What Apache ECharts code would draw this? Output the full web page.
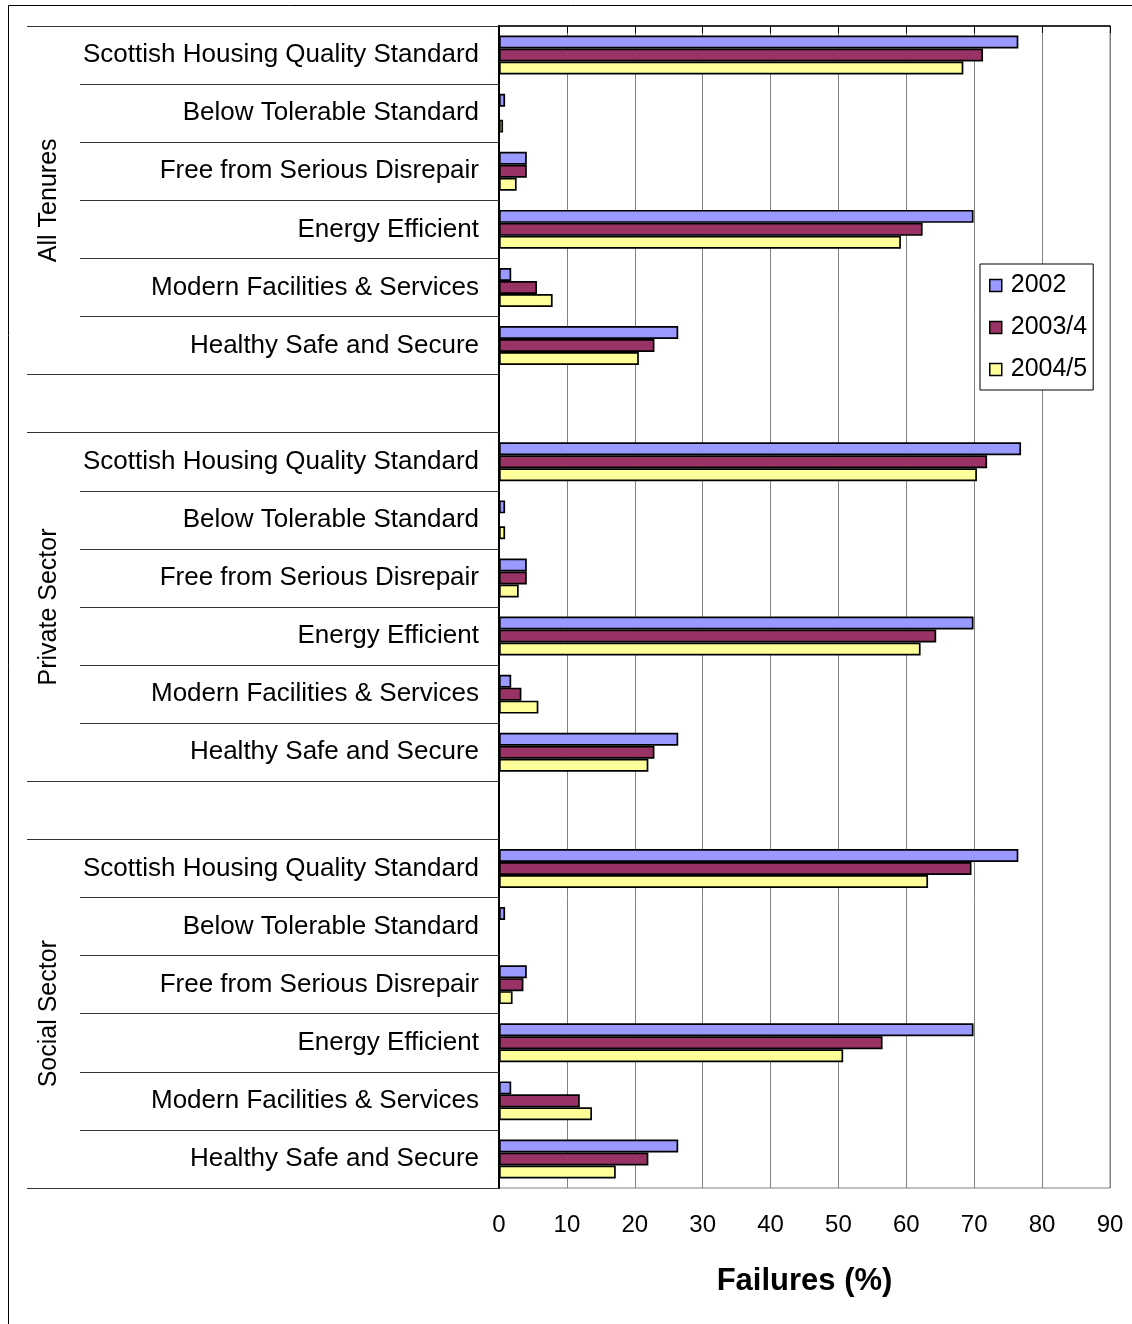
<!DOCTYPE html>
<html>
<head>
<meta charset="utf-8">
<script src="https://cdn.jsdelivr.net/npm/echarts@6/dist/echarts.min.js"></script>
<style>
  html, body { margin: 0; padding: 0; background: #fff; }
  #chart { width: 1132px; height: 1324px; }
</style>
</head>
<body>
<div id="chart"></div>
<script>
// Housing standards and the sectors they are reported for
const standards = [
  'Scottish Housing Quality Standard',
  'Below Tolerable Standard',
  'Free from Serious Disrepair',
  'Energy Efficient',
  'Modern Facilities & Services',
  'Healthy Safe and Secure'
];
const sectors = ['All Tenures', 'Private Sector', 'Social Sector'];
const years = ['2002', '2003/4', '2004/5'];

// Failure rates (%), one array per sector and survey year (null = not reported)
const allTenures2002 = [76.5, 0.9, 4.1, 69.9, 1.8, 26.4];
const allTenures2003 = [71.3, null, 4.1, 62.4, 5.6, 22.9];
const allTenures2004 = [68.4, 0.6, 2.6, 59.2, 7.9, 20.6];

const private2002 = [76.9, 0.9, 4.1, 69.9, 1.8, 26.4];
const private2003 = [71.9, null, 4.1, 64.4, 3.3, 22.9];
const private2004 = [70.4, 0.9, 2.9, 62.1, 5.8, 22.0];

const social2002 = [76.5, 0.9, 4.1, 69.9, 1.8, 26.4];
const social2003 = [69.6, null, 3.6, 56.5, 11.9, 22.0];
const social2004 = [63.2, null, 2.0, 50.7, 13.7, 17.2];

// x-axis ticks
const xTicks = [0, 10, 20, 30, 40, 50, 60, 70, 80, 90];

const seriesValues = [
  [allTenures2002, private2002, social2002],
  [allTenures2003, private2003, social2003],
  [allTenures2004, private2004, social2004]
];
const colors = ['#9999FF', '#993366', '#FFFF99'];

// Category rows: six standards per sector with one empty spacer row between sectors
const categories = [];
sectors.forEach((s, i) => {
  standards.forEach(st => categories.push(s + '|' + st));
  if (i < sectors.length - 1) categories.push('spacer' + i);
});

function rowsFor(perSector) {
  const out = [];
  perSector.forEach((arr, i) => {
    arr.forEach(v => out.push(v));
    if (i < perSector.length - 1) out.push(null);
  });
  return out;
}

// Row boundaries where the sector separators reach further left
const rowCount = categories.length;
const sectorEdges = [];
const sectorCentres = [];
let start = 0;
sectors.forEach(() => {
  sectorEdges.push(start, start + standards.length);
  sectorCentres.push(start + standards.length / 2);
  start += standards.length + 1;
});

const FONT = '"Liberation Sans", Arial, sans-serif';

const chart = echarts.init(document.getElementById('chart'), null, { renderer: 'canvas' });

chart.setOption({
  animation: false,
  backgroundColor: '#ffffff',
  textStyle: { fontFamily: FONT, color: '#000' },
  graphic: [{
    type: 'rect',
    shape: { x: 8.5, y: 5.5, width: 1400, height: 1500 },
    style: { fill: 'none', stroke: '#000', lineWidth: 1 },
    silent: true
  }],
  grid: {
    left: 499, right: 22, top: 26, bottom: 136,
    show: true, borderColor: '#808080', borderWidth: 1,
    containLabel: false
  },
  legend: {
    orient: 'vertical',
    left: 980, top: 264,
    padding: [9, 6, 8, 9],
    itemGap: 17,
    itemWidth: 12, itemHeight: 12,
    icon: 'rect',
    backgroundColor: '#fff',
    borderColor: '#000', borderWidth: 1,
    textStyle: { fontFamily: FONT, fontSize: 25, color: '#000', padding: [0, 0, 0, 4] },
    itemStyle: { borderColor: '#000', borderWidth: 1.5 },
    data: years
  },
  xAxis: {
    type: 'value',
    min: xTicks[0], max: xTicks[xTicks.length - 1], interval: 10,
    name: 'Failures (%)',
    nameLocation: 'middle',
    nameGap: 78,
    nameTextStyle: { fontFamily: FONT, fontSize: 31, fontWeight: 'bold', color: '#000' },
    axisLine: { show: true, lineStyle: { color: '#000', width: 1.5 } },
    axisTick: { show: true, length: 7, lineStyle: { color: '#000' } },
    axisLabel: { fontFamily: FONT, fontSize: 24, color: '#000', margin: 25 },
    splitLine: { show: true, lineStyle: { color: '#808080', width: 1 } }
  },
  yAxis: [{
    type: 'category',
    data: categories,
    inverse: true,
    axisLine: { show: true, lineStyle: { color: '#000', width: 2 } },
    axisTick: { show: true, interval: 0, length: 419, lineStyle: { color: '#333', width: 1 } },
    axisLabel: {
      interval: 0, margin: 20,
      fontFamily: FONT, fontSize: 26, color: '#000',
      formatter: v => v.indexOf('|') >= 0 ? v.split('|')[1] : ''
    },
    splitLine: { show: false }
  }, {
    type: 'value',
    min: 0, max: rowCount,
    inverse: true,
    position: 'left',
    axisLine: { show: false },
    axisTick: { show: true, customValues: sectorEdges, length: 472, lineStyle: { color: '#333', width: 1 } },
    axisLabel: {
      customValues: sectorCentres,
      rotate: 90, margin: 437,
      fontFamily: FONT, fontSize: 25, color: '#000',
      formatter: v => sectors[sectorCentres.indexOf(v)] || ''
    },
    splitLine: { show: false }
  }],
  series: years.map((y, i) => ({
    name: y,
    type: 'bar',
    yAxisIndex: 0,
    data: rowsFor(seriesValues[i]),
    barGap: '0%',
    barCategoryGap: '33%',
    itemStyle: { color: colors[i], borderColor: '#000', borderWidth: 1.7 }
  }))
});
</script>
</body>
</html>
